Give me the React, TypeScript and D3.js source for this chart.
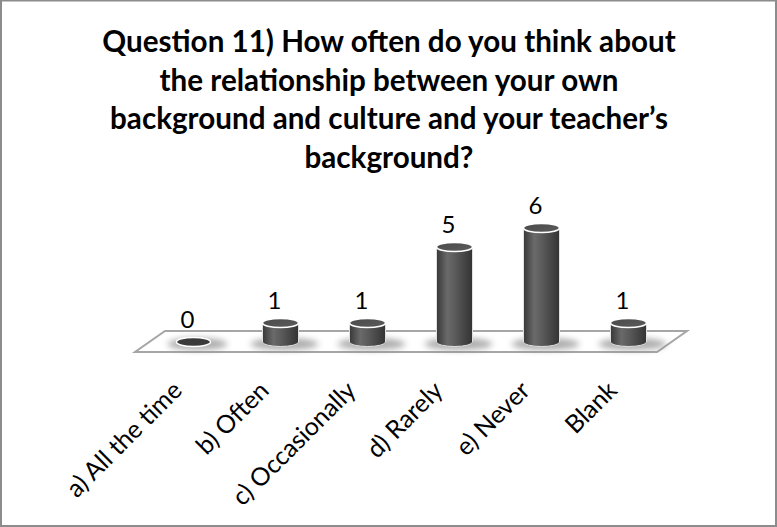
import React from "react";
import * as d3 from "d3";

const W = 777;
const H = 527;

const titleLines = [
  "Question 11) How often do you think about",
  "the relationship between your own",
  "background and culture and your teacher\u2019s",
  "background?",
];
const categories = ["a) All the time", "b) Often", "c) Occasionally", "d) Rarely", "e) Never", "Blank"];
const values = [0, 1, 1, 5, 6, 1];

const FONT = "Lato, 'Open Sans', sans-serif";

function measure(text: string, font: string): number {
  const c = document.createElement("canvas").getContext("2d");
  if (!c) return text.length * 10;
  c.font = font;
  return c.measureText(text).width;
}

export default function App() {
  const tBase = measure(titleLines[0], `bold 28px Lato`);
  const titleSize = Math.max(20, Math.min(32, (28 * 575) / tBase));
  const lBase = measure(categories[0], `20px Lato`);
  const labelSize = Math.max(16, Math.min(26, (20 * 152) / lBase));

  const x = d3.scaleBand<string>().domain(categories).range([150, 672]).padding(0);
  const y = d3.scaleLinear().domain([0, 6]).range([342, 228]);
  const bw = x.bandwidth();
  const depth = 15;
  const floorBack = 331;
  const floorFront = 352;
  const rx = 18;
  const ry = 4.5;

  const floorPath = d3.path();
  floorPath.moveTo(150 + depth, floorBack);
  floorPath.lineTo(672 + depth, floorBack);
  floorPath.lineTo(672 - depth, floorFront);
  floorPath.lineTo(150 - depth, floorFront);
  floorPath.closePath();

  return (
    <svg width={W} height={H} style={{ position: "absolute", left: 0, top: 0 }}>
      <defs>
        <linearGradient id="body" x1="0" x2="1" y1="0" y2="0">
          <stop offset="0" stopColor="#383838" />
          <stop offset="0.3" stopColor="#6a6a6a" />
          <stop offset="0.55" stopColor="#585858" />
          <stop offset="1" stopColor="#333333" />
        </linearGradient>
        <linearGradient id="topg" x1="0" x2="1" y1="0" y2="1">
          <stop offset="0" stopColor="#4a4a4a" />
          <stop offset="1" stopColor="#5c5c5c" />
        </linearGradient>
        <filter id="blur" x="-50%" y="-100%" width="200%" height="300%">
          <feGaussianBlur stdDeviation="3" />
        </filter>
      </defs>
      <rect x={0} y={0} width={W} height={H} fill="#ffffff" />
      <rect x={1} y={0.5} width={W - 2} height={H - 1.5} fill="none" stroke="#8c8c8c" strokeWidth={2} />

      <g fontFamily={FONT} fontWeight="bold" fontSize={titleSize} textAnchor="middle" fill="#000">
        {titleLines.map((t, i) => (
          <text key={i} x={389} y={52 + i * 38.5}>
            {t}
          </text>
        ))}
      </g>

      <path d={floorPath.toString()} fill="#ffffff" stroke="#a6a6a6" strokeWidth={2} strokeLinejoin="miter" />

      {categories.map((c, i) => {
        const cx = (x(c) as number) + bw / 2;
        return (
          <ellipse key={"sh" + i} cx={cx + 4} cy={y(0) + 2} rx={values[i] > 0 ? 34 : 30} ry={6} fill="#8a8a8a" opacity={0.7} filter="url(#blur)" />
        );
      })}

      {categories.map((c, i) => {
        const cx = (x(c) as number) + bw / 2;
        const v = values[i];
        const yb = y(0);
        const yt = y(v);
        if (v === 0) {
          return (
            <ellipse key={"cy" + i} cx={cx} cy={yb} rx={rx - 1} ry={ry} fill="#3a3a3a" stroke="#ffffff" strokeWidth={1.5} />
          );
        }
        const body = `M${cx - rx},${yt} L${cx - rx},${yb} A${rx},${ry} 0 0 0 ${cx + rx},${yb} L${cx + rx},${yt} Z`;
        return (
          <g key={"cy" + i}>
            <path d={body} fill="url(#body)" stroke="#e0e0e0" strokeWidth={1} />
            <ellipse cx={cx} cy={yt} rx={rx} ry={ry} fill="url(#topg)" stroke="#ffffff" strokeWidth={1.6} />
          </g>
        );
      })}

      <g fontFamily={FONT} fontSize={24} textAnchor="middle" fill="#000">
        {categories.map((c, i) => {
          const cx = (x(c) as number) + bw / 2;
          return (
            <text key={"v" + i} x={cx - 6} y={y(values[i]) - 14}>
              {values[i]}
            </text>
          );
        })}
      </g>

      <g fontFamily={FONT} fontSize={labelSize} fill="#000">
        {categories.map((c, i) => {
          const cx = (x(c) as number) + bw / 2;
          return (
            <text key={"l" + i} textAnchor="end" transform={`translate(${cx - 10},${392}) rotate(-45)`}>
              {c}
            </text>
          );
        })}
      </g>
    </svg>
  );
}
